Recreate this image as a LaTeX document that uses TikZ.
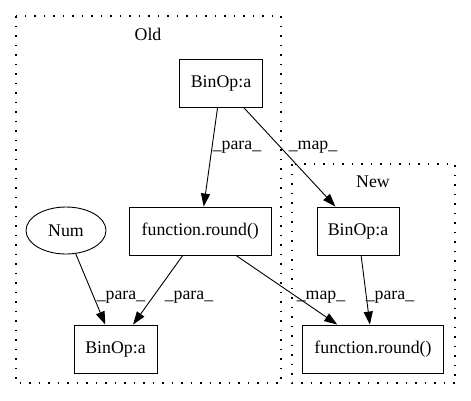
\documentclass[tikz,border=0pt]{standalone}
\usepackage{fontspec}
\setmainfont{Liberation Serif}
\usetikzlibrary{arrows.meta,shapes.geometric}
\begin{document}
\begin{tikzpicture}[x=1pt,y=-1pt,
  every node/.style={font=\fontsize{17.8pt}{21pt}\selectfont},
  opbox/.style={draw,line width=0.9pt,inner sep=0pt,minimum height=48pt},
  numell/.style={draw,line width=0.9pt,ellipse,inner sep=0pt,minimum width=80pt,minimum height=47pt},
  cluster/.style={draw,line width=1.3pt,dash pattern=on 1.5pt off 8pt},
  edge/.style={draw,line width=0.9pt,-{Triangle[length=13pt,width=9pt]}},
  elabel/.style={inner sep=0pt}]
\path[use as bounding box] (0,0) rectangle (471,400);
\draw[cluster] (16,16) rectangle (281,383);
\draw[cluster] (292,164) rectangle (455,383);
\node (oldlbl) at (148,34) {Old};
\node (newlbl) at (373,182) {New};
\node[opbox,minimum width=83pt] (b1) at (221,83) {BinOp:a};
\node[numell] (num) at (66,230.5) {Num};
\node[opbox,minimum width=142pt] (f1) at (200.3,231) {function.round()};
\node[opbox,minimum width=82pt] (b2) at (358,231) {BinOp:a};
\node[opbox,minimum width=83pt] (b3) at (115.5,349) {BinOp:a};
\node[opbox,minimum width=141pt] (f2) at (373,349) {function.round()};
\draw[edge] (b1) -- (f1);
\draw[edge] (b1) -- (b2);
\draw[edge] (num) -- (b3);
\draw[edge] (f1) -- (b3);
\draw[edge] (f1) -- (f2);
\draw[edge] (b2) -- (f2);
\node[elabel] (l1) at (237,147) {\_para\_};
\node[elabel] (l2) at (313,147) {\_map\_};
\node[elabel] (l3) at (121,297) {\_para\_};
\node[elabel] (l4) at (189,297) {\_para\_};
\node[elabel] (l5) at (321,297) {\_map\_};
\node[elabel] (l6) at (390,297) {\_para\_};
\end{tikzpicture}
\end{document}
